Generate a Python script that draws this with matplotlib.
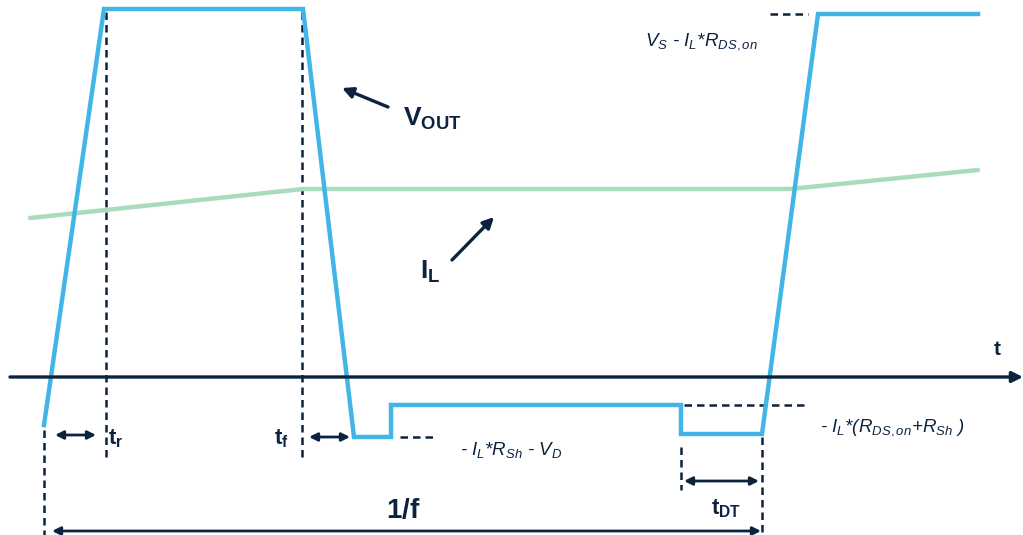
import matplotlib.pyplot as plt

plt.rcParams['font.family'] = ['Liberation Sans', 'DejaVu Sans']
plt.rcParams['mathtext.fontset'] = 'custom'
plt.rcParams['mathtext.rm'] = 'Liberation Sans'
plt.rcParams['mathtext.it'] = 'Liberation Sans:italic'
plt.rcParams['mathtext.bf'] = 'Liberation Sans:bold'

BLUE = '#41b6e6'
GREEN = '#a8dcbc'
NAVY = '#0c2340'

# waveform points (time, level) in picture units
vout_t = [44, 104, 303, 354, 391, 391, 681, 681, 762, 818, 978]
vout_v = [425, 9, 9, 437, 437, 405, 405, 434, 434, 14, 14]

il_t = [30, 303, 790, 978]
il_v = [218, 189, 189, 170]

# dashed marker lines: (x0, y0, x1, y1)
guides = [
    (106, 12, 106, 460),
    (302, 12, 302, 460),
    (44, 430, 44, 535),
    (681, 447, 681, 490),
    (762, 437, 762, 535),
    (770, 14, 808, 14),
    (400, 437, 436, 437),
    (684, 405, 808, 405),
]

# double arrows: (x0, x1, y)
spans = [
    (55, 96, 435),
    (309, 350, 437),
    (684, 759, 481),
    (52, 761, 531),
]

fig = plt.figure(figsize=(10.23, 5.35), dpi=100)
ax = fig.add_axes([0, 0, 1, 1])
ax.set_xlim(0, 1023)
ax.set_ylim(535, 0)
ax.axis('off')

for x0, y0, x1, y1 in guides:
    ax.plot([x0, x1], [y0, y1], color=NAVY, lw=1.8, ls=(0, (3, 2)), zorder=1)

ax.plot(il_t, il_v, color=GREEN, lw=3.2, solid_capstyle='round', zorder=2)
ax.plot(vout_t, vout_v, color=BLUE, lw=3.2, solid_joinstyle='miter', zorder=3)

# time axis
ax.annotate('', xy=(1023, 377), xytext=(10, 377),
            arrowprops=dict(arrowstyle='-|>', color=NAVY, lw=2.4, mutation_scale=16,
                            shrinkA=0, shrinkB=0))
ax.text(997, 355, r'$\mathbf{t}$', fontsize=15, color=NAVY, ha='center', va='baseline')

for x0, x1, y in spans:
    ax.annotate('', xy=(x1, y), xytext=(x0, y),
                arrowprops=dict(arrowstyle='<|-|>', color=NAVY, lw=2, mutation_scale=12,
                                shrinkA=0, shrinkB=0))

# pointer arrows
ax.annotate('', xy=(342, 88), xytext=(388, 107),
            arrowprops=dict(arrowstyle='-|>', color=NAVY, lw=2.4, mutation_scale=16,
                            shrinkA=0, shrinkB=0))
ax.annotate('', xy=(494, 217), xytext=(452, 260),
            arrowprops=dict(arrowstyle='-|>', color=NAVY, lw=2.4, mutation_scale=16,
                            shrinkA=0, shrinkB=0))

bold = dict(color=NAVY, va='baseline', ha='left')
ax.text(403, 126, r'$\mathbf{V_{OUT}}$', fontsize=19, **bold)
ax.text(420, 279, r'$\mathbf{I_L}$', fontsize=19, **bold)
ax.text(108, 444, r'$\mathbf{t_r}$', fontsize=16, **bold)
ax.text(274, 444, r'$\mathbf{t_f}$', fontsize=16, **bold)
ax.text(386, 518, r'$\mathbf{1/f}$', fontsize=20, **bold)
ax.text(711, 514, r'$\mathbf{t_{DT}}$', fontsize=16, **bold)

ital = dict(color=NAVY, va='baseline', ha='left', fontsize=13.5, style='italic')
ax.text(645, 45, r'V$_S$ - I$_L$*R$_{DS,on}$', **ital)
ax.text(460, 455, r'- I$_L$*R$_{Sh}$ - V$_D$', **ital)
ax.text(820, 432, r'- I$_L$*(R$_{DS,on}$+R$_{Sh}$ )', **ital)

fig.savefig('out.png', dpi=100)
